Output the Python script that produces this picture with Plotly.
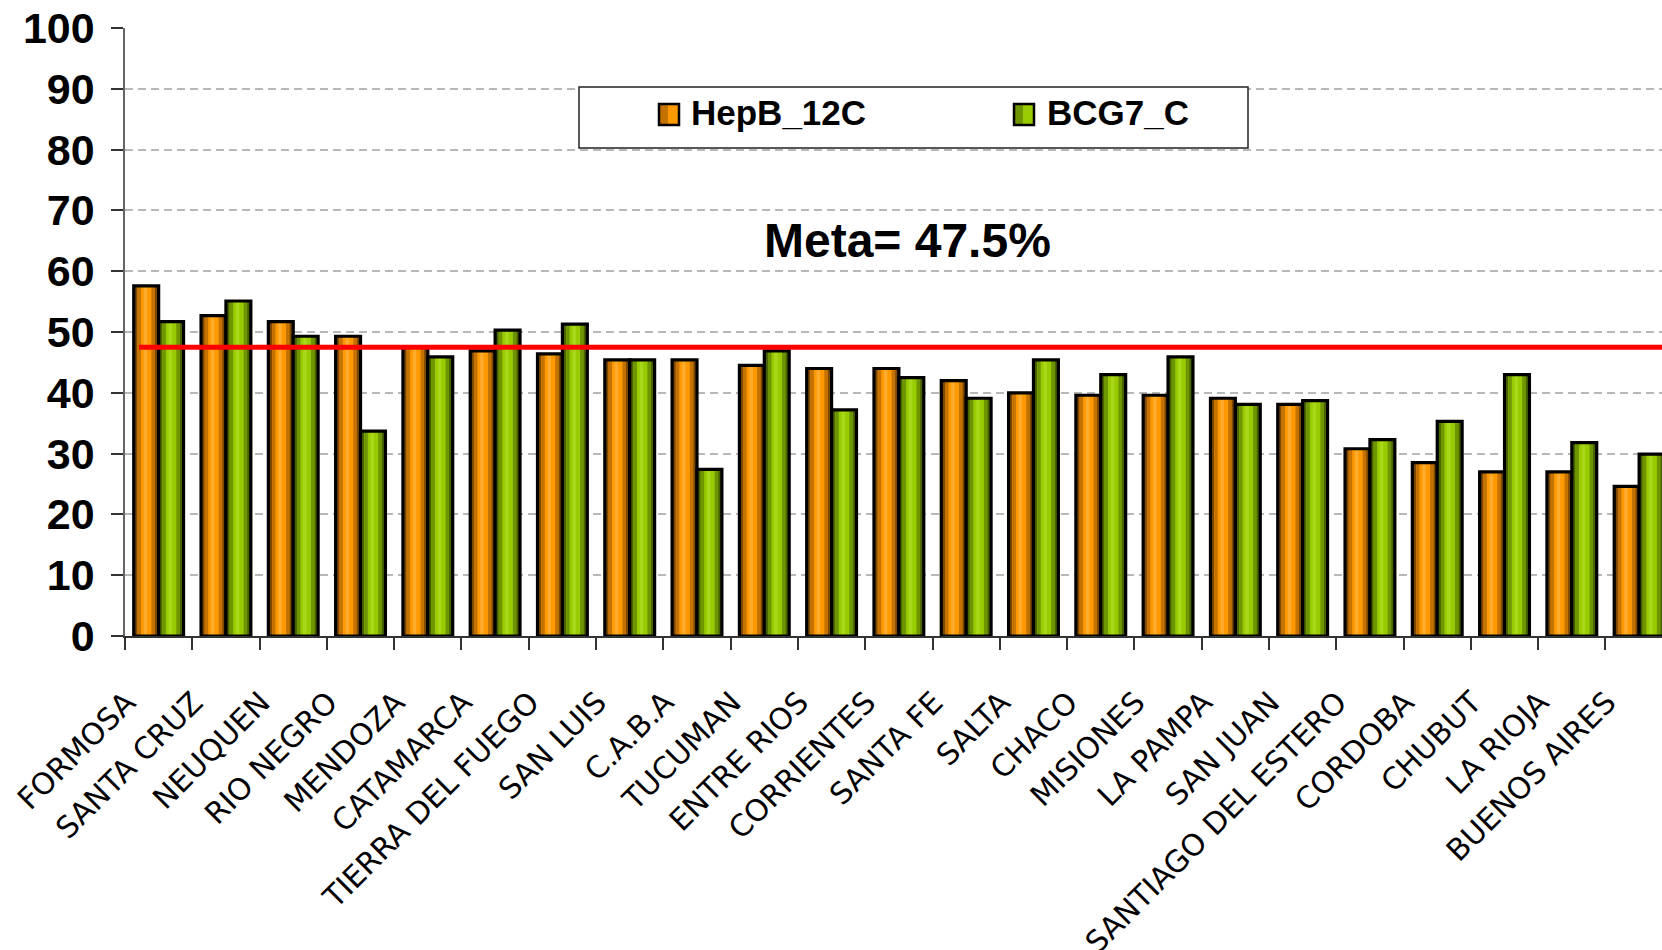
import plotly.graph_objects as go

CATEGORIES = ["FORMOSA", "SANTA CRUZ", "NEUQUEN", "RIO NEGRO", "MENDOZA", "CATAMARCA",
              "TIERRA DEL FUEGO", "SAN LUIS", "C.A.B.A", "TUCUMAN", "ENTRE RIOS",
              "CORRIENTES", "SANTA FE", "SALTA", "CHACO", "MISIONES", "LA PAMPA",
              "SAN JUAN", "SANTIAGO DEL ESTERO", "CORDOBA", "CHUBUT", "LA RIOJA",
              "BUENOS AIRES"]
HEPB_12C = [57.6, 52.7, 51.7, 49.3, 47.6, 46.9, 46.4, 45.4, 45.4, 44.5, 44.0, 44.0, 42.0,
            40.0, 39.6, 39.6, 39.1, 38.1, 30.8, 28.5, 27.0, 27.0, 24.6]
BCG7_C = [51.7, 55.1, 49.3, 33.7, 45.9, 50.3, 51.3, 45.4, 27.4, 46.9, 37.2, 42.5, 39.1,
          45.4, 43.0, 45.9, 38.1, 38.7, 32.3, 35.3, 43.0, 31.8, 29.9]
SERIES_NAMES = ["HepB_12C", "BCG7_C"]
META = 47.5
Y_TICKS = [0, 10, 20, 30, 40, 50, 60, 70, 80, 90, 100]

W = 0.37
series = [
    dict(name=SERIES_NAMES[0], y=HEPB_12C, off=-W,
         bright="#ff9900", mid="#c47200", dark="#7d4800", hi="#ffab2e"),
    dict(name=SERIES_NAMES[1], y=BCG7_C, off=0.0,
         bright="#99cc00", mid="#6f9600", dark="#4a6500", hi="#a9d81a"),
]
stripes = [(0.0, 0.15, "dark"), (0.15, 0.29, "mid"), (0.71, 0.85, "mid"),
           (0.85, 1.0, "dark"), (0.40, 0.54, "hi")]

fig = go.Figure()
for s in series:
    fig.add_trace(go.Bar(x=CATEGORIES, y=s["y"], name=s["name"], offset=s["off"], width=W,
                         marker=dict(color=s["bright"], line=dict(width=0)),
                         showlegend=False, hoverinfo="skip"))
    for a, b, key in stripes:
        fig.add_trace(go.Bar(x=CATEGORIES, y=s["y"], offset=s["off"] + a * W, width=(b - a) * W,
                             marker=dict(color=s[key], line=dict(width=0)),
                             showlegend=False, hoverinfo="skip"))
    fig.add_trace(go.Bar(x=CATEGORIES, y=s["y"], name=s["name"], offset=s["off"], width=W,
                         marker=dict(color="rgba(0,0,0,0)", line=dict(color="black", width=3.2)),
                         showlegend=False))

L, T, B = 125, 28, 314
FW, FH = 1662, 950
PW = FW - L
PH = FH - T - B

def px(x):
    return (x - L) / PW

def py(y):
    return (FH - B - y) / PH

shapes = [
    dict(type="line", xref="paper", yref="y", x0=px(139), x1=1.0, y0=META, y1=META,
         line=dict(color="#ff0000", width=5), layer="above"),
    dict(type="rect", xref="paper", yref="paper", x0=px(579), x1=px(1248), y0=py(148), y1=py(87),
         fillcolor="white", line=dict(color="#222222", width=1.5), layer="above"),
]
annotations = []
legend_pos = [(659, 689), (1014, 1045)]
for s, (sx, tx) in zip(series, legend_pos):
    shapes.append(dict(type="rect", xref="paper", yref="paper", x0=px(sx), x1=px(sx + 20),
                       y0=py(125), y1=py(104), fillcolor=s["bright"],
                       line=dict(width=0), layer="above"))
    shapes.append(dict(type="rect", xref="paper", yref="paper", x0=px(sx), x1=px(sx + 9),
                       y0=py(125), y1=py(104), fillcolor=s["mid"],
                       line=dict(width=0), layer="above"))
    shapes.append(dict(type="rect", xref="paper", yref="paper", x0=px(sx), x1=px(sx + 20),
                       y0=py(125), y1=py(104), fillcolor="rgba(0,0,0,0)",
                       line=dict(color="black", width=2.5), layer="above"))
    annotations.append(dict(xref="paper", yref="paper", x=px(tx), y=py(112), xanchor="left",
                            yanchor="middle", showarrow=False, text="<b>" + s["name"] + "</b>",
                            font=dict(family="Liberation Sans", size=35, color="black")))

annotations.append(dict(xref="paper", yref="paper", x=px(907), y=py(241), xanchor="center",
                        yanchor="middle", showarrow=False, text="<b>Meta= 47.5%</b>",
                        font=dict(family="Liberation Sans", size=48, color="black")))

fig.update_layout(
    width=FW, height=FH,
    margin=dict(l=L, r=0, t=T, b=B, pad=0),
    paper_bgcolor="white", plot_bgcolor="white",
    barmode="overlay",
    showlegend=False,
    shapes=shapes,
    annotations=annotations,
    xaxis=dict(
        type="category", range=[-0.5, 22.34], automargin=False,
        tickangle=-45, tickson="boundaries", ticks="outside", ticklen=12,
        tickcolor="#333333", tickwidth=1.5,
        showline=True, linecolor="#333333", linewidth=1.5,
        showgrid=False,
        tickfont=dict(family="DejaVu Sans", size=30, color="black"),
        ticklabelstandoff=35, ticklabelshift=-32,
    ),
    yaxis=dict(
        range=[0, 100], automargin=False, tickvals=Y_TICKS,
        ticks="outside", ticklen=12, tickcolor="#333333", tickwidth=1.5,
        showline=True, linecolor="#666666", linewidth=1.5,
        showgrid=True, gridcolor="#b8b8b8", gridwidth=1.5, griddash="8px,5px",
        zeroline=False,
        tickfont=dict(family="Liberation Sans", size=43, color="black", weight="bold"),
        ticklabelstandoff=8,
    ),
)

fig.write_html("out.html", config={"displayModeBar": False},
               post_script="document.body.style.margin='0';document.body.style.overflow='hidden';")
